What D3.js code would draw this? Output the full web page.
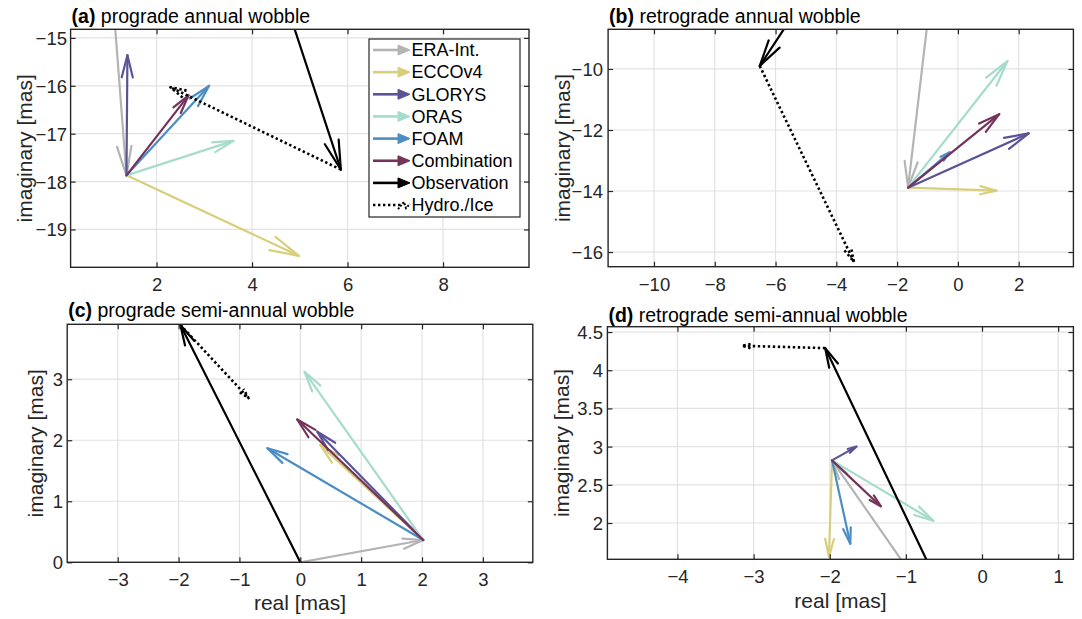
<!DOCTYPE html>
<html>
<head>
<meta charset="utf-8">
<script src="https://cdn.jsdelivr.net/npm/d3@7"></script>
<style>
  html, body { margin: 0; padding: 0; background: #fff; }
  svg { display: block; font-family: "Liberation Sans", Arial, Helvetica, sans-serif; }
</style>
</head>
<body>
<svg id="chart" width="1082" height="619"></svg>
<script>
// ---------------- data ----------------
const seriesNames = ["ERA-Int.", "ECCOv4", "GLORYS", "ORAS", "FOAM", "Combination", "Observation", "Hydro./Ice"];
const seriesColors = ["#b4b4b4", "#d8cf7b", "#5a5496", "#a5dccc", "#4b8ec4", "#74345a", "#000000", "#000000"];
const modelNames = ["ECCOv4", "GLORYS", "ORAS", "FOAM", "Combination"];

// (a) prograde annual wobble  [real, imaginary] in mas
const aERA = [1.37, -17.87];
const aModelRe = [4.98, 1.39, 3.61, 3.10, 2.67];
const aModelIm = [-19.55, -15.36, -17.15, -16.00, -16.20];
const aObs = [5.86, -17.75];
const aHydro = [2.29, -16.03];
const aXTicks = [2, 4, 6, 8];
const aYTicks = [-19, -18, -17, -16, -15];

// (b) retrograde annual wobble
const bERA = [-1.64, -13.89];
const bModelRe = [1.27, 2.33, 1.63, -0.27, 1.36];
const bModelIm = [-13.99, -12.11, -9.74, -12.73, -11.48];
const bObs = [-6.52, -9.90];
const bHydro = [-3.42, -16.32];
const bXTicks = [-10, -8, -6, -4, -2, 0, 2];
const bYTicks = [-16, -14, -12, -10];

// (c) prograde semi-annual wobble
const cERA = [2.02, 0.365];
const cModelRe = [0.33, 0.28, 0.07, -0.54, -0.05];
const cModelIm = [1.92, 2.14, 3.12, 1.87, 2.34];
const cObs = [-1.97, 3.89];
const cHydro = [-0.85, 2.69];
const cXTicks = [-3, -2, -1, 0, 1, 2, 3];
const cYTicks = [0, 1, 2, 3];

// (d) retrograde semi-annual wobble
const dERA = [-1.97, 2.82];
const dModelRe = [-2.01, -1.65, -0.64, -1.73, -1.33];
const dModelIm = [1.56, 3.00, 2.03, 1.73, 2.22];
const dObs = [-2.06, 4.29];
const dHydro = [-3.15, 4.32];
const dXTicks = [-4, -3, -2, -1, 0, 1];
const dYTicks = [2, 2.5, 3, 3.5, 4, 4.5];

// ---------------- layout ----------------
const panels = [
  { id: "a", letter: "(a)", title: " prograde annual wobble", era: aERA, re: aModelRe, im: aModelIm, obs: aObs, hydro: aHydro,
    xTicks: aXTicks, yTicks: aYTicks, xd: [0.2, 9.8], yd: [-19.79, -14.82],
    box: [70.6, 529, 29.3, 267.3], titleY: 23, xTickY: 291, yTickX: 67, yLabX: 25, xLab: false, xLabY: 0, headCap: 30 },
  { id: "b", letter: "(b)", title: " retrograde annual wobble", era: bERA, re: bModelRe, im: bModelIm, obs: bObs, hydro: bHydro,
    xTicks: bXTicks, yTicks: bYTicks, xd: [-11.51, 3.80], yd: [-16.48, -8.70],
    box: [608.1, 1073.4, 29.3, 266.7], titleY: 23, xTickY: 290.7, yTickX: 603, yLabX: 562.5, xLab: false, xLabY: 0, headCap: 27 },
  { id: "c", letter: "(c)", title: " prograde semi-annual wobble", era: cERA, re: cModelRe, im: cModelIm, obs: cObs, hydro: cHydro,
    xTicks: cXTicks, yTicks: cYTicks, xd: [-3.83, 3.82], yd: [0, 3.9],
    box: [67.2, 532.8, 324.3, 562.3], titleY: 317, xTickY: 586, yTickX: 63, yLabX: 36, xLab: true, xLabY: 610, headCap: 21 },
  { id: "d", letter: "(d)", title: " retrograde semi-annual wobble", era: dERA, re: dModelRe, im: dModelIm, obs: dObs, hydro: dHydro,
    xTicks: dXTicks, yTicks: dYTicks, xd: [-4.92, 1.20], yd: [1.525, 4.57],
    box: [607.4, 1073.4, 326.7, 559.3], titleY: 321.7, xTickY: 583.3, yLabX: 561.6, yTickX: 603, xLab: true, xLabY: 608.3, headCap: 20 }
];

const TXT = "#262626";
const GRID = "#e2e2e2";
const svg = d3.select("#chart");
const defs = svg.append("defs");

function colorOf(name) { return seriesColors[seriesNames.indexOf(name)]; }

function drawArrow(g, x0, y0, x1, y1, color, dotted, cap) {
  const dx = x1 - x0, dy = y1 - y0;
  const len = Math.hypot(dx, dy);
  const th = Math.atan2(dy, dx);
  let h = Math.max(9, Math.min(cap, 0.19 * len));
  if (dotted) h = h * 0.55;
  const phi = 14 * Math.PI / 180;
  const p1 = [x1 - h * Math.cos(th - phi), y1 - h * Math.sin(th - phi)];
  const p2 = [x1 - h * Math.cos(th + phi), y1 - h * Math.sin(th + phi)];
  const sw = dotted ? 2.6 : 2.2;
  const common = sel => sel.attr("fill", "none").attr("stroke", color).attr("stroke-width", sw)
    .attr("stroke-dasharray", dotted ? "2.4 2.6" : null)
    .attr("stroke-linecap", dotted ? "butt" : "round").attr("stroke-linejoin", "round");
  g.append("line").attr("x1", x0).attr("y1", y0).attr("x2", x1).attr("y2", y1).call(common);
  g.append("path").attr("d", `M${p1[0]},${p1[1]}L${x1},${y1}L${p2[0]},${p2[1]}`).call(common);
}

panels.forEach(p => {
  const [L, R, T, B] = p.box;
  const x = d3.scaleLinear().domain(p.xd).range([L, R]);
  const y = d3.scaleLinear().domain(p.yd).range([B, T]);
  const g = svg.append("g").attr("class", "panel-" + p.id);

  // grid
  g.append("g").selectAll("line").data(p.xTicks).join("line")
    .attr("x1", d => x(d)).attr("x2", d => x(d)).attr("y1", T).attr("y2", B)
    .attr("stroke", GRID).attr("stroke-width", 1.2);
  g.append("g").selectAll("line").data(p.yTicks).join("line")
    .attr("y1", d => y(d)).attr("y2", d => y(d)).attr("x1", L).attr("x2", R)
    .attr("stroke", GRID).attr("stroke-width", 1.2);

  // clip
  defs.append("clipPath").attr("id", "clip-" + p.id)
    .append("rect").attr("x", L).attr("y", T).attr("width", R - L).attr("height", B - T);
  const ga = g.append("g").attr("clip-path", `url(#clip-${p.id})`);

  // ERA-Int.: origin -> atmosphere point
  drawArrow(ga, x(0), y(0), x(p.era[0]), y(p.era[1]), colorOf("ERA-Int."), false, p.headCap);
  // ocean models from ERA tip
  modelNames.forEach((m, i) => {
    drawArrow(ga, x(p.era[0]), y(p.era[1]), x(p.re[i]), y(p.im[i]), colorOf(m), false, p.headCap);
  });
  // observation
  drawArrow(ga, x(0), y(0), x(p.obs[0]), y(p.obs[1]), colorOf("Observation"), false, p.headCap);
  // hydro / ice
  drawArrow(ga, x(p.obs[0]), y(p.obs[1]), x(p.hydro[0]), y(p.hydro[1]), colorOf("Hydro./Ice"), true, p.headCap);

  // axes box
  g.append("rect").attr("x", L).attr("y", T).attr("width", R - L).attr("height", B - T)
    .attr("fill", "none").attr("stroke", TXT).attr("stroke-width", 1.4);

  // ticks (inward on all sides)
  const tk = 5;
  const axB = g.append("g").attr("transform", `translate(0,${B})`)
    .call(d3.axisBottom(x).tickValues(p.xTicks).tickSizeInner(-tk).tickSizeOuter(0).tickFormat(d3.format("")));
  axB.select(".domain").remove();
  axB.selectAll("line").attr("stroke", TXT).attr("stroke-width", 1.2);
  axB.selectAll("text").attr("y", p.xTickY - B).attr("dy", null)
    .attr("fill", TXT).attr("font-size", 18.5).attr("font-family", null);
  const axT = g.append("g").attr("transform", `translate(0,${T})`)
    .call(d3.axisTop(x).tickValues(p.xTicks).tickSizeInner(-tk).tickSizeOuter(0).tickFormat(""));
  axT.select(".domain").remove();
  axT.selectAll("line").attr("stroke", TXT).attr("stroke-width", 1.2);
  const axL = g.append("g").attr("transform", `translate(${L},0)`)
    .call(d3.axisLeft(y).tickValues(p.yTicks).tickSizeInner(-tk).tickSizeOuter(0).tickFormat(d3.format("")));
  axL.select(".domain").remove();
  axL.selectAll("line").attr("stroke", TXT).attr("stroke-width", 1.2);
  axL.selectAll("text").attr("x", p.yTickX - L).attr("dy", "0.35em")
    .attr("fill", TXT).attr("font-size", 18.5).attr("font-family", null).attr("text-anchor", "end");
  const axR = g.append("g").attr("transform", `translate(${R},0)`)
    .call(d3.axisRight(y).tickValues(p.yTicks).tickSizeInner(-tk).tickSizeOuter(0).tickFormat(""));
  axR.select(".domain").remove();
  axR.selectAll("line").attr("stroke", TXT).attr("stroke-width", 1.2);

  // axis labels
  g.append("text").attr("transform", `translate(${p.yLabX},${(T + B) / 2}) rotate(-90)`)
    .attr("text-anchor", "middle").attr("dy", "0.35em").attr("font-size", 21).attr("fill", TXT)
    .text("imaginary [mas]");
  if (p.xLab) {
    g.append("text").attr("x", (L + R) / 2).attr("y", p.xLabY).attr("text-anchor", "middle")
      .attr("font-size", 21).attr("fill", TXT).text("real [mas]");
  }
  // title
  const t = g.append("text").attr("x", L + 1).attr("y", p.titleY).attr("font-size", 19.5).attr("fill", "#000");
  t.append("tspan").attr("font-weight", "bold").text(p.letter);
  t.append("tspan").text(p.title);
});

// ---------------- legend (inside panel a) ----------------
const lg = svg.append("g").attr("class", "legend");
lg.append("rect").attr("x", 369).attr("y", 39).attr("width", 151).attr("height", 178)
  .attr("fill", "#fff").attr("stroke", TXT).attr("stroke-width", 1.2);
seriesNames.forEach((name, i) => {
  const yy = 50 + i * 22.15;
  const c = seriesColors[i];
  const dotted = name === "Hydro./Ice";
  lg.append("line").attr("x1", 373).attr("x2", 401).attr("y1", yy).attr("y2", yy)
    .attr("stroke", c).attr("stroke-width", dotted ? 2.6 : 2.6)
    .attr("stroke-dasharray", dotted ? "2.4 2.6" : null);
  if (dotted) {
    lg.append("path").attr("d", `M398,${yy + 4}L404,${yy - 3}L406,${yy + 3}L410,${yy - 1}`)
      .attr("fill", "none").attr("stroke", c).attr("stroke-width", 2).attr("stroke-dasharray", "2 1.5");
  } else {
    lg.append("path").attr("d", `M398,${yy - 5}L410,${yy}L398,${yy + 5}Z`).attr("fill", c).attr("stroke", c).attr("stroke-width", 1);
  }
  lg.append("text").attr("x", 411.5).attr("y", yy).attr("dy", "0.35em")
    .attr("font-size", 18).attr("fill", "#000").text(name);
});
</script>
</body>
</html>
